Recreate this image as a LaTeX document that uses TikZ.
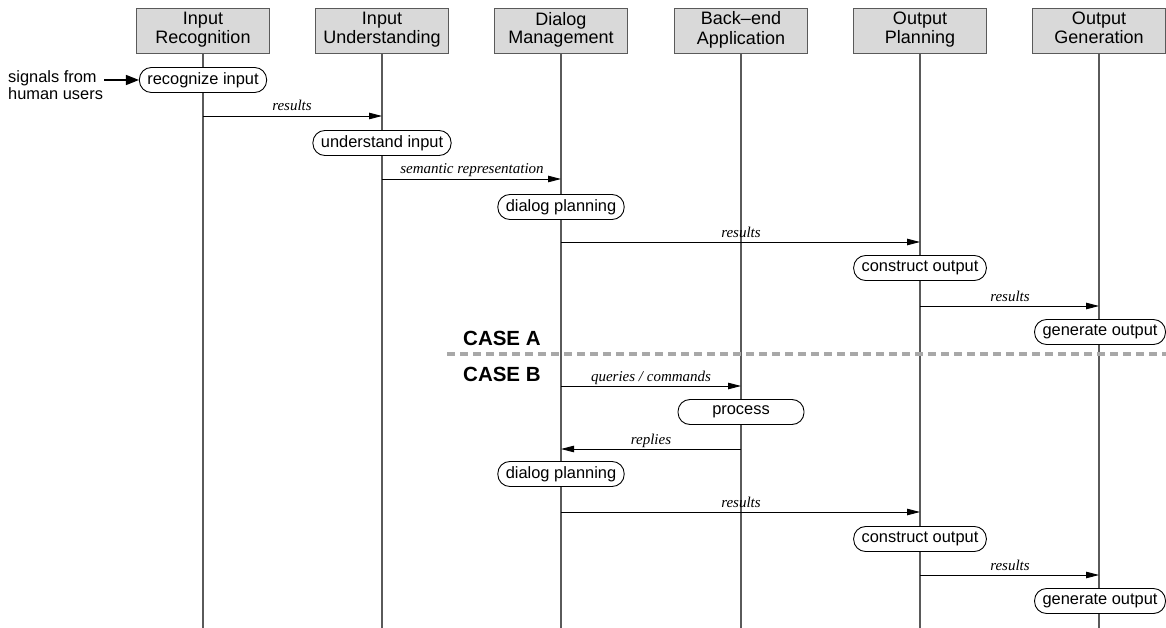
\documentclass[tikz,border=0pt]{standalone}
\usepackage{fontspec}
\setmainfont{Liberation Sans}
\newfontfamily\serifit{Liberation Serif}
\usetikzlibrary{arrows.meta}
\definecolor{hdrfill}{HTML}{D9D9D9}
\definecolor{lifegray}{HTML}{5A5A5A}
\definecolor{dashgray}{HTML}{A8A8A8}
\tikzset{
  hdr/.style={draw=lifegray, fill=hdrfill, line width=0.9pt, minimum width=133pt, minimum height=45pt, align=center, inner sep=0pt, font=\fontsize{18}{18}\selectfont},
  act/.style={draw=black, fill=white, line width=0.9pt, rounded corners=12pt, minimum height=25pt, inner xsep=8pt, inner ysep=0pt, font=\fontsize{16.4}{18}\selectfont},
  life/.style={draw=lifegray, line width=1.2pt},
  msg/.style={draw=black, line width=0.9pt, -{Triangle[length=13pt,width=6.5pt]}},
  lbl/.style={font=\fontsize{15}{16}\selectfont\serifit\itshape, inner sep=0pt, anchor=base},
  casel/.style={font=\fontsize{20.5}{22}\selectfont\bfseries, inner sep=0pt, anchor=base west}
}
\begin{document}
\begin{tikzpicture}[x=1pt,y=-1pt]
\useasboundingbox (0,0) rectangle (1166,628);
% headers
\node[hdr] (h1) at (203,30.5) {Input\strut\\Recognition\strut};
\node[hdr] (h2) at (382,30.5) {Input\strut\\Understanding\strut};
\node[hdr] (h3) at (561,30.5) {Dialog\strut\\Management\strut};
\node[hdr] (h4) at (741,30.5) {Back--end\strut\\Application\strut};
\node[hdr] (h5) at (920,30.5) {Output\strut\\Planning\strut};
\node[hdr] (h6) at (1099,30.5) {Output\strut\\Generation\strut};
% lifelines
\foreach \h in {h1,h2,h3,h4,h5,h6} {
  \coordinate (\h end) at (\h.south |- 0,628);
  \draw[life] (\h.south) -- (\h end);
}
% dashed separator
\coordinate (dashL) at (447,354);
\coordinate (dashR) at (1166,354);
\draw[dashgray, line width=3.2pt, dash pattern=on 8pt off 5pt] (dashL) -- (dashR);
\node[casel] (caseA) at (463,345) {CASE A};
\node[casel] (caseB) at (463,381) {CASE B};
% activities
\node[act] (a1) at (203,80) {recognize input};
\node[act] (a2) at (382,143) {understand input};
\node[act] (a3) at (561,207) {dialog planning};
\node[act] (a4) at (920,268) {construct output};
\node[act] (a5) at (1100,332) {generate output};
\node[act, minimum width=126pt] (a6) at (741,412) {process};
\node[act] (a7) at (561,474) {dialog planning};
\node[act] (a8) at (920,539) {construct output};
\node[act] (a9) at (1100,601) {generate output};
% input signals
\node[font=\fontsize{16.4}{17}\selectfont, align=left, anchor=west, inner sep=0pt] (sig) at (8,85) {signals from\\human users};
\coordinate (sigS) at (104,80);
\draw[black, line width=1.5pt, -{Triangle[length=13pt,width=10pt]}] (sigS) -- (a1.west);
% messages
\draw[msg] (h1.south |- 0,116) -- (h2.south |- 0,116);
\node[lbl] (l1) at (292,111) {results};
\draw[msg] (h2.south |- 0,179) -- (h3.south |- 0,179);
\node[lbl] (l2) at (472,174) {semantic representation};
\draw[msg] (h3.south |- 0,242) -- (h5.south |- 0,242);
\node[lbl] (l3) at (741,237) {results};
\draw[msg] (h5.south |- 0,306) -- (h6.south |- 0,306);
\node[lbl] (l4) at (1010,301) {results};
\draw[msg] (h3.south |- 0,386) -- (h4.south |- 0,386);
\node[lbl] (l5) at (651,381) {queries / commands};
\draw[msg] (h4.south |- 0,449) -- (h3.south |- 0,449);
\node[lbl] (l6) at (651,444) {replies};
\draw[msg] (h3.south |- 0,512) -- (h5.south |- 0,512);
\node[lbl] (l7) at (741,507) {results};
\draw[msg] (h5.south |- 0,575) -- (h6.south |- 0,575);
\node[lbl] (l8) at (1010,570) {results};
\end{tikzpicture}
\end{document}
